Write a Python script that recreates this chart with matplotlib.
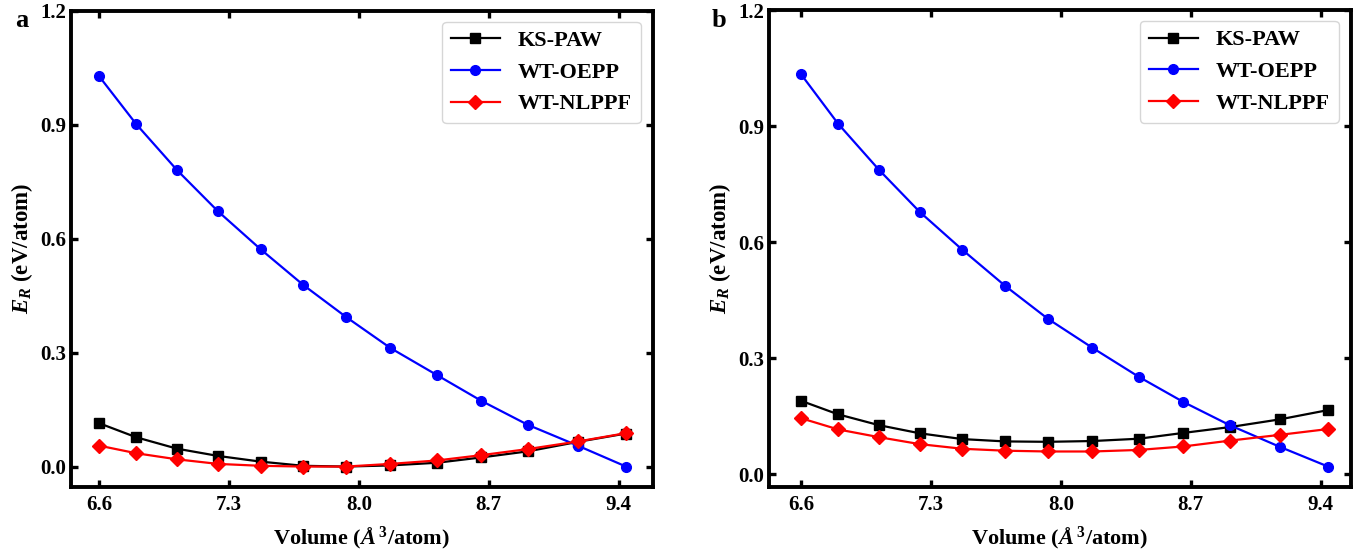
import matplotlib as mpl
mpl.use("Agg")
import matplotlib.pyplot as plt

# volumes (A^3/atom), same grid for both panels
volume = [6.60, 6.80, 7.02, 7.24, 7.47, 7.70, 7.93, 8.17, 8.42, 8.66, 8.91, 9.18, 9.44]

# panel a
ks_paw_a = [0.114, 0.077, 0.047, 0.028, 0.013, 0.002, 0.000, 0.003, 0.010, 0.024, 0.040, 0.065, 0.087]
wt_oepp_a = [1.027, 0.901, 0.780, 0.672, 0.572, 0.478, 0.394, 0.312, 0.241, 0.173, 0.110, 0.055, 0.000]
wt_nlppf_a = [0.055, 0.035, 0.019, 0.007, 0.002, 0.000, 0.000, 0.007, 0.016, 0.030, 0.046, 0.066, 0.088]

# panel b
ks_paw_b = [0.190, 0.155, 0.127, 0.106, 0.091, 0.085, 0.084, 0.086, 0.092, 0.107, 0.122, 0.142, 0.166]
wt_oepp_b = [1.034, 0.906, 0.787, 0.678, 0.580, 0.487, 0.402, 0.327, 0.252, 0.187, 0.127, 0.071, 0.020]
wt_nlppf_b = [0.145, 0.116, 0.096, 0.078, 0.066, 0.061, 0.059, 0.059, 0.063, 0.072, 0.087, 0.102, 0.117]

xticks = [6.6, 7.3, 8.0, 8.7, 9.4]
yticks = [0.0, 0.3, 0.6, 0.9, 1.2]

plt.rcParams['font.family'] = ['Liberation Serif', 'DejaVu Serif']
plt.rcParams['font.weight'] = 'bold'
plt.rcParams['mathtext.fontset'] = 'custom'
plt.rcParams['mathtext.rm'] = 'Liberation Serif:bold'
plt.rcParams['mathtext.it'] = 'Liberation Serif:italic:bold'
plt.rcParams['mathtext.bf'] = 'Liberation Serif:bold'

fig = plt.figure(figsize=(13.72, 5.5), dpi=100)
ax_a = fig.add_axes([0.0515, 0.1151, 0.4244, 0.8655])
ax_b = fig.add_axes([0.5603, 0.1151, 0.4242, 0.8667])


def draw_panel(ax, ks, oepp, nlppf, xlim, ylim, letter, letter_x):
    ax.plot(volume, ks, color='black', marker='s', ms=7, lw=1.6, label='KS-PAW')
    ax.plot(volume, oepp, color='blue', marker='o', ms=7, lw=1.6, label='WT-OEPP')
    ax.plot(volume, nlppf, color='red', marker='D', ms=7, lw=1.6, label='WT-NLPPF')
    ax.set_xlim(*xlim)
    ax.set_ylim(*ylim)
    ax.set_xticks(xticks)
    ax.set_yticks(yticks)
    ax.set_xticklabels(['%.1f' % t for t in xticks])
    ax.set_yticklabels(['%.1f' % t for t in yticks])
    ax.tick_params(direction='in', top=True, right=True, length=5, width=2.4,
                   labelsize=15)
    ax.tick_params(axis='x', pad=6)
    ax.tick_params(axis='y', pad=3)
    for s in ax.spines.values():
        s.set_linewidth(2.8)
    ax.set_xlabel('Volume ($Å^{\\,3}$/atom)', fontsize=16, fontweight='bold')
    ax.set_ylabel('$E_R$ (eV/atom)', fontsize=16.5, fontweight='bold')
    ax.xaxis.set_label_coords(0.5, -0.080)
    ax.yaxis.set_label_coords(-0.062, 0.5)
    ax.legend(loc='upper right', fontsize=16, handlelength=2.2, handletextpad=0.8,
              borderpad=0.4, labelspacing=0.5, borderaxespad=0,
              bbox_to_anchor=(0.979, 0.977))
    fig.text(letter_x, 0.962, letter, fontsize=19, fontweight='bold', va='center')


draw_panel(ax_a, ks_paw_a, wt_oepp_a, wt_nlppf_a, (6.446, 9.585), (-0.053, 1.2), 'a', 0.011)
draw_panel(ax_b, ks_paw_b, wt_oepp_b, wt_nlppf_b, (6.426, 9.562), (-0.032, 1.2), 'b', 0.519)

fig.savefig('out.png', dpi=100)
